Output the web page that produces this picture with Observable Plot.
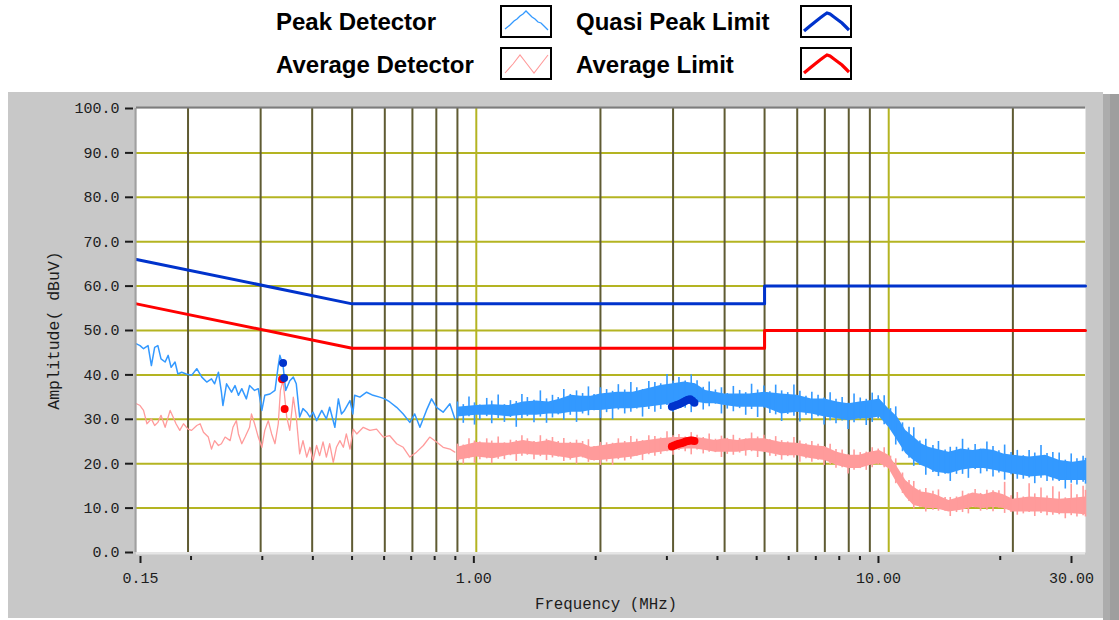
<!DOCTYPE html>
<html><head><meta charset="utf-8">
<script src="https://cdn.jsdelivr.net/npm/d3@7"></script>
<script src="https://cdn.jsdelivr.net/npm/@observablehq/plot@0.6"></script>
<style>
html,body{margin:0;padding:0;background:#fff;}
body{width:1119px;height:620px;position:relative;overflow:hidden;}
.lg{position:absolute;font-family:"Liberation Sans",Arial,sans-serif;font-weight:bold;font-size:24px;line-height:24px;color:#000;white-space:nowrap;}
.box{position:absolute;width:48px;height:29px;border:2px solid #000;background:#fff;}
.box svg{position:absolute;left:0;top:0;}
#panel{position:absolute;left:8px;top:92px;width:1095px;height:526px;background:#c8c8c8;}
#strip{position:absolute;left:1103px;top:94px;width:16px;height:526px;background:linear-gradient(to right,#acacac 0,#acacac 7px,#9e9e9e 7px);}
#panel svg{position:absolute;left:0;top:0;}
</style></head><body>
<div class="lg" style="left:276px;top:10px">Peak Detector</div>
<div class="box" style="left:500px;top:5px"><svg width="48" height="29"><polyline points="3,22 8,18 12,14 15,12 18,9 21,7 24,4 27,7 30,10 33,12 36,15 39,16 42,19 46,23" fill="none" stroke="#3399ff" stroke-width="1.3"/></svg></div>
<div class="lg" style="left:576px;top:10px">Quasi Peak Limit</div>
<div class="box" style="left:800px;top:5px"><svg width="48" height="29"><polyline points="2,24 8,19 13,15 18,11 22,8 25,6 28,7 32,10 36,13 40,16 44,20 47,23" fill="none" stroke="#0033cc" stroke-width="3.2"/></svg></div>
<div class="lg" style="left:276px;top:53px">Average Detector</div>
<div class="box" style="left:500px;top:47px"><svg width="48" height="29"><polyline points="3,24 11,15 18,6 25,15 32,24 39,15 46,6" fill="none" stroke="#ff9999" stroke-width="1.1"/></svg></div>
<div class="lg" style="left:576px;top:53px">Average Limit</div>
<div class="box" style="left:800px;top:47px"><svg width="48" height="29"><polyline points="2,24 8,19 13,15 18,11 22,8 25,6 28,7 32,10 36,13 40,16 44,20 47,23" fill="none" stroke="#ff0000" stroke-width="3.2"/></svg></div>
<div id="strip"></div>
<div id="panel"></div>
<script>
// ---------- data ----------
const limitFreq = [0.15, 0.5, 5, 5, 30];
const qpLimitVal = [66, 56, 56, 60, 60];
const avLimitVal = [56, 46, 46, 50, 50];

// low-frequency part of the detector traces (thin lines)
const peakLowFreq = [0.150,0.153,0.156,0.160,0.163,0.166,0.169,0.172,0.176,0.179,0.182,0.186,0.189,0.193,0.198,0.204,0.210,0.216,0.222,0.228,0.232,0.237,0.241,0.243,0.248,0.255,0.260,0.265,0.270,0.277,0.282,0.290,0.296,0.302,0.307,0.316,0.325,0.331,0.334,0.340,0.345,0.353,0.360,0.366,0.373,0.380,0.388,0.395,0.402,0.410,0.422,0.433,0.441,0.454,0.463,0.471,0.479,0.494,0.502,0.507,0.522,0.542,0.562,0.583,0.600,0.617,0.641,0.665,0.690,0.709,0.730,0.757,0.779,0.801,0.831,0.863,0.887];
const peakLowVal = [47.0,46.6,45.9,46.6,42.1,46.2,46.6,43.6,42.9,44.4,41.7,42.9,40.2,40.6,40.2,39.9,41.4,39.5,38.4,39.1,38.0,40.6,36.1,33.1,38.0,36.1,37.6,35.4,36.9,34.6,37.6,36.5,36.9,32.0,35.4,35.7,36.5,42.1,44.4,42.1,36.5,38.7,39.5,38.0,30.5,32.4,31.6,30.5,31.6,29.7,32.0,30.1,32.7,28.2,34.6,31.2,32.0,34.2,31.2,35.4,35.0,36.1,35.4,35.0,34.6,33.9,32.7,31.2,29.3,31.2,28.2,32.0,34.6,32.7,31.6,33.5,30.1];

const avgLowFreq = [0.150,0.153,0.156,0.159,0.163,0.166,0.169,0.172,0.176,0.181,0.184,0.187,0.191,0.195,0.200,0.204,0.210,0.214,0.218,0.224,0.228,0.232,0.237,0.241,0.246,0.253,0.257,0.262,0.265,0.270,0.275,0.282,0.285,0.290,0.296,0.302,0.307,0.313,0.319,0.325,0.331,0.335,0.340,0.347,0.353,0.360,0.366,0.373,0.380,0.388,0.395,0.402,0.410,0.417,0.425,0.433,0.441,0.450,0.458,0.467,0.476,0.484,0.494,0.503,0.513,0.532,0.552,0.573,0.595,0.617,0.641,0.665,0.690,0.716,0.744,0.771,0.801,0.831,0.863,0.887];
const avgLowVal = [33.5,33.1,32.0,29.0,30.1,28.6,29.3,30.9,28.2,32.0,30.5,29.0,27.5,29.0,27.8,27.5,28.6,29.0,27.1,26.0,23.3,25.2,24.1,24.5,26.0,25.2,28.2,29.7,26.7,24.5,26.0,28.2,31.2,29.0,26.0,23.7,27.5,29.7,26.7,24.5,29.0,36.5,38.7,30.5,27.5,35.0,30.5,22.2,25.2,21.5,23.7,20.7,24.1,21.8,24.9,21.5,24.5,20.3,23.7,25.2,23.7,26.7,23.3,27.8,26.7,28.2,27.5,27.8,26.0,26.3,24.5,23.7,21.5,22.6,24.1,26.0,24.9,23.7,23.3,22.6];

// dense noisy part (0.9 - 30 MHz): core band of each trace
const coreFreq = [0.9,1.0,1.1,1.2,1.3,1.4,1.5,1.6,1.7,1.8,1.9,2.0,2.2,2.4,2.6,2.8,3.0,3.2,3.4,3.6,3.8,4.0,4.3,4.6,5.0,5.5,6.0,6.5,7.0,7.5,8.0,8.5,9.0,9.5,10,10.5,11,11.5,12,12.5,13,14,15,16,17,18,19,20,22,24,26,28,30];
const peakCoreHi = [32.7,33.1,33.3,33.1,33.9,34.1,33.9,34.6,35.4,35.2,35.2,35.7,36.1,36.1,36.9,37.6,38.0,38.4,38.0,36.5,36.1,35.7,35.7,35.7,36.1,35.7,35.4,34.6,34.6,33.9,33.5,33.9,34.2,34.6,32.4,30.5,27.5,26.0,24.5,23.7,23.3,22.6,23.3,23.0,23.3,23.0,22.2,21.9,21.5,21.9,20.7,20.3,20.7];
const peakCoreLo = [30.5,30.9,30.9,30.6,30.9,30.9,31.2,31.2,31.6,31.6,32.0,32.0,32.4,32.4,32.7,33.1,33.5,33.5,33.9,33.5,33.5,33.1,32.7,32.7,32.7,31.2,31.6,31.2,30.5,30.1,29.7,30.1,30.1,30.5,28.2,25.2,22.3,20.7,19.6,18.9,18.1,17.7,18.5,18.9,18.9,18.5,18.1,17.7,17.0,17.3,16.2,16.2,16.2];
const avgCoreHi = [23.7,24.8,24.6,24.6,25.2,24.8,25.2,24.6,24.6,24.6,23.7,24.0,24.6,24.8,25.2,25.6,25.9,25.9,25.9,25.6,25.2,25.6,25.2,25.6,25.6,24.8,24.6,24.1,23.8,22.6,21.9,21.9,22.6,23.0,21.9,19.2,16.2,14.7,13.6,13.4,13.0,11.7,12.5,13.4,13.0,13.6,13.0,12.0,12.5,12.3,12.0,12.2,12.5];
const avgCoreLo = [20.7,21.5,21.1,21.9,22.2,21.9,21.9,21.5,21.1,21.5,20.7,20.7,21.1,21.5,22.2,22.6,23.0,23.3,23.3,23.0,22.6,22.6,22.6,23.0,22.6,21.8,21.8,21.1,20.7,19.6,18.9,18.9,19.6,20.0,18.9,15.5,12.5,10.6,10.2,9.9,9.9,9.1,9.5,10.2,9.9,10.2,9.9,9.1,9.1,9.1,8.7,8.7,8.5];

// noise spikes around the core band: lowest / highest excursion at each frequency
const spikeFreq = [0.90,0.93,0.96,0.99,1.02,1.06,1.09,1.13,1.17,1.21,1.25,1.29,1.33,1.38,1.43,1.48,1.53,1.58,1.63,1.69,1.75,1.81,1.87,1.93,2.00,2.07,2.14,2.21,2.29,2.37,2.45,2.53,2.62,2.71,2.80,2.90,3.00,3.10,3.21,3.32,3.43,3.55,3.67,3.80,3.93,4.06,4.20,4.35,4.50,4.65,4.81,4.98,5.15,5.32,5.50,5.69,5.89,6.09,6.30,6.51,6.74,6.97,7.21,7.45,7.71,7.97,8.24,8.53,8.82,9.12,9.43,9.75,10.1,10.4,10.8,11.2,11.5,11.9,12.3,12.8,13.2,13.7,14.1,14.6,15.1,15.6,16.2,16.7,17.3,17.9,18.5,19.1,19.8,20.5,21.2,21.9,22.6,23.4,24.2,25.0,25.9,26.8,27.7,28.6,29.6,30];
const peakSpikeHi = [33.9,33.3,35.0,33.7,33.2,34.7,34.1,35.5,33.3,34.2,34.0,35.6,34.9,34.3,36.4,34.6,35.4,34.9,36.7,35.6,36.4,35.8,37.3,35.6,37.1,36.7,36.3,37.8,36.6,38.3,37.1,36.7,38.5,38.3,38.0,40.1,38.6,39.4,38.6,40.0,38.7,37.2,38.4,36.6,37.1,35.8,37.4,36.5,36.0,37.9,36.6,37.5,36.2,37.7,36.4,36.0,37.7,36.3,35.2,36.1,35.4,34.8,36.0,34.5,34.9,33.6,35.7,34.8,34.5,35.9,35.3,35.3,32.4,32.8,29.2,28.2,28.1,25.1,25.5,24.1,25.0,23.1,23.7,23.7,25.5,23.5,24.3,23.3,24.9,23.9,22.9,24.2,22.5,23.0,21.8,23.0,22.4,24.1,22.3,22.5,22.4,20.8,22.2,21.1,21.7,21.2];
const peakSpikeLo = [30.1,29.1,30.6,28.7,29.9,30.6,29.0,30.2,29.3,30.4,28.2,30.1,30.6,29.2,30.5,29.1,30.3,31.0,29.8,30.9,29.3,31.2,30.8,31.9,30.2,31.5,29.9,32.1,31.2,31.6,32.3,30.5,32.2,31.6,32.2,33.1,31.6,33.1,32.5,31.5,33.6,32.1,32.8,33.4,31.2,32.3,31.7,32.4,30.9,32.2,30.4,32.5,31.3,31.0,29.5,31.1,30.7,29.4,30.9,29.8,30.6,28.7,29.7,29.0,29.6,27.7,29.2,29.9,28.6,29.3,30.1,28.8,27.7,24.2,22.7,21.2,19.4,19.6,17.4,18.0,17.1,17.6,16.0,17.6,17.6,16.7,18.7,17.7,18.2,17.0,17.9,16.3,17.5,16.5,16.5,16.8,15.5,16.7,16.0,16.1,16.0,14.3,15.6,15.2,15.8,15.4];
const avgSpikeHi = [24.4,24.2,25.6,25.1,24.9,25.6,25.1,26.0,24.7,25.3,25.2,26.3,25.6,25.0,26.3,25.5,25.9,25.0,25.7,24.8,25.3,25.0,25.4,23.9,24.8,24.7,24.6,25.6,25.0,26.1,25.5,25.2,26.3,26.1,25.8,27.2,26.3,26.6,26.0,27.0,26.4,25.9,26.7,25.5,26.2,25.7,26.4,25.7,25.6,26.9,26.0,26.4,25.4,26.1,25.2,24.9,25.9,25.1,24.5,25.0,24.4,23.9,24.4,23.2,23.1,22.0,23.1,22.5,22.6,23.6,23.3,23.6,21.7,21.1,17.9,16.2,16.0,14.1,14.4,13.8,14.1,12.4,12.4,12.5,13.8,13.2,14.2,13.3,14.0,13.9,13.9,15.8,12.8,13.5,12.5,15.5,13.2,14.5,12.7,14.8,13.6,12.3,15.4,13.0,14.9,14.0];
const avgSpikeLo = [20.5,19.9,21.1,20.1,20.9,21.1,20.0,21.0,20.9,21.8,20.5,21.7,21.9,20.9,21.6,20.7,21.3,21.5,20.5,20.8,19.9,21.3,20.3,20.6,19.6,20.4,19.6,20.9,20.6,21.0,21.7,20.7,22.0,21.7,22.1,22.7,21.9,23.0,22.7,22.0,23.1,22.2,22.6,22.5,21.4,22.1,21.9,22.4,21.7,22.7,21.4,22.5,21.7,21.6,20.8,21.6,21.3,20.3,21.1,20.3,20.8,19.6,19.8,19.0,19.1,17.7,18.5,18.9,18.5,19.1,19.7,19.1,18.3,15.5,13.3,11.5,9.8,10.2,9.1,9.5,9.3,9.3,8.1,9.0,9.0,8.7,10.1,9.3,9.5,9.2,10.0,8.8,9.0,8.4,8.7,9.0,8.1,8.8,8.3,8.4,8.5,7.6,8.3,8.0,8.3,8.0];

// final measurement points
const qpMarkFreq = [0.340,0.342,2.98,3.02,3.06,3.10,3.14,3.18,3.22,3.26,3.30,3.34,3.38];
const qpMarkVal  = [42.7,39.3,32.8,33.0,33.2,33.4,33.6,33.9,34.2,34.4,34.5,34.2,33.7];
const avMarkFreq = [0.338,0.343,2.98,3.02,3.06,3.10,3.14,3.18,3.22,3.26,3.30,3.34,3.38];
const avMarkVal  = [39.0,32.3,23.9,24.1,24.3,24.5,24.6,24.8,25.0,25.1,25.2,25.2,25.1];

const yTicks = [0,10,20,30,40,50,60,70,80,90,100];
const yGrid = [10,20,30,40,50,60,70,80,90];
const xGridMinor = [0.2,0.3,0.4,0.5,0.6,0.7,0.8,0.9,2,3,4,5,6,7,8,9,20];
const xGridMajor = [1,10];
const xTickMajor = [0.15,1,10,30];
const xTickMinor = [0.2,0.3,0.4,0.5,0.6,0.7,0.8,0.9,2,3,4,5,6,7,8,9,20];

// ---------- build tables ----------
const pairs = (fs, vs) => fs.map((f, i) => ({f, v: vs[i]}));
const range = (fs, lo, hi) => fs.map((f, i) => ({f, lo: lo[i], hi: hi[i]}));
const peakLow = pairs(peakLowFreq, peakLowVal);
const avgLow = pairs(avgLowFreq, avgLowVal);
const peakCore = range(coreFreq, peakCoreLo, peakCoreHi);
const avgCore = range(coreFreq, avgCoreLo, avgCoreHi);
const peakSpikes = range(spikeFreq, peakSpikeLo, peakSpikeHi);
const avgSpikes = range(spikeFreq, avgSpikeLo, avgSpikeHi);
const qpLimit = pairs(limitFreq, qpLimitVal);
const avLimit = pairs(limitFreq, avLimitVal);
const qpMarks = pairs(qpMarkFreq, qpMarkVal);
const avMarks = pairs(avMarkFreq, avMarkVal);

const peakColor = "#3399ff", avgColor = "#ff9b9b";
const gridYellow = "#b4b422", gridDark = "#5f5b33";
const W = 1095, H = 526;
const fontStyle = {background: "transparent", fontFamily: "'Liberation Mono', 'DejaVu Sans Mono', monospace", fontSize: "15px", color: "#1c1c1c", overflow: "visible"};

const main = Plot.plot({
  width: W, height: H,
  marginLeft: 128, marginRight: 18, marginTop: 16, marginBottom: 66,
  style: fontStyle,
  x: {type: "log", domain: [0.15, 30], axis: null},
  y: {domain: [0, 100], axis: null},
  marks: [
    Plot.frame({fill: "#ffffff", stroke: null}),
    Plot.gridY(yGrid, {stroke: gridYellow, strokeOpacity: 1, strokeWidth: 2}),
    Plot.gridX(xGridMinor, {stroke: gridDark, strokeOpacity: 1, strokeWidth: 2}),
    Plot.gridX(xGridMajor, {stroke: gridYellow, strokeOpacity: 1, strokeWidth: 2}),
    Plot.areaY(avgCore, {x: "f", y1: "lo", y2: "hi", fill: avgColor, fillOpacity: 1}),
    Plot.ruleX(avgSpikes, {x: "f", y1: "lo", y2: "hi", stroke: avgColor, strokeWidth: 1.6}),
    Plot.line(avgLow, {x: "f", y: "v", stroke: avgColor, strokeWidth: 1.3}),
    Plot.areaY(peakCore, {x: "f", y1: "lo", y2: "hi", fill: peakColor, fillOpacity: 1}),
    Plot.ruleX(peakSpikes, {x: "f", y1: "lo", y2: "hi", stroke: peakColor, strokeWidth: 1.6}),
    Plot.line(peakLow, {x: "f", y: "v", stroke: peakColor, strokeWidth: 1.5}),
    Plot.line(avLimit, {x: "f", y: "v", stroke: "#ff0000", strokeWidth: 3}),
    Plot.line(qpLimit, {x: "f", y: "v", stroke: "#0033cc", strokeWidth: 3}),
    Plot.dot(avMarks, {x: "f", y: "v", r: 4, fill: "#ff0000", stroke: null}),
    Plot.dot(qpMarks, {x: "f", y: "v", r: 4, fill: "#0033cc", stroke: null}),
    Plot.ruleX([0.15], {stroke: "#a0a0a0", strokeWidth: 2, dx: -1}),
    Plot.ruleY([100], {stroke: "#7c7c7c", strokeWidth: 2, dy: -1}),
    Plot.ruleY([0], {stroke: "#e6e6e6", strokeWidth: 2, dy: 1}),
    Plot.axisY(yTicks, {tickSize: 8, tickPadding: 6, dx: -3, strokeWidth: 2, tickFormat: d => d.toFixed(1), label: null}),
    Plot.axisY([], {label: "Amplitude( dBuV)", labelAnchor: "center", labelArrow: "none", labelOffset: 89, fontSize: 16.5})
  ]
});

const overlay = Plot.plot({
  width: W, height: H,
  marginLeft: 132, marginRight: 32, marginTop: 16, marginBottom: 66,
  style: fontStyle,
  x: {type: "log", domain: [0.15, 30]},
  y: {domain: [0, 100], axis: null},
  marks: [
    Plot.axisX(xTickMinor, {tickSize: 4, dy: 4, strokeWidth: 2, tickFormat: () => "", label: null}),
    Plot.axisX(xTickMajor, {tickSize: 7, dy: 4, tickPadding: 9, strokeWidth: 2, tickFormat: d => d.toFixed(2), label: null}),
    Plot.axisX([], {label: "Frequency (MHz)", labelAnchor: "center", labelArrow: "none", labelOffset: 56, fontSize: 15.8})
  ]
});
overlay.style.pointerEvents = "none";
const panel = document.getElementById("panel");
panel.appendChild(main);
panel.appendChild(overlay);
</script>
</body></html>
